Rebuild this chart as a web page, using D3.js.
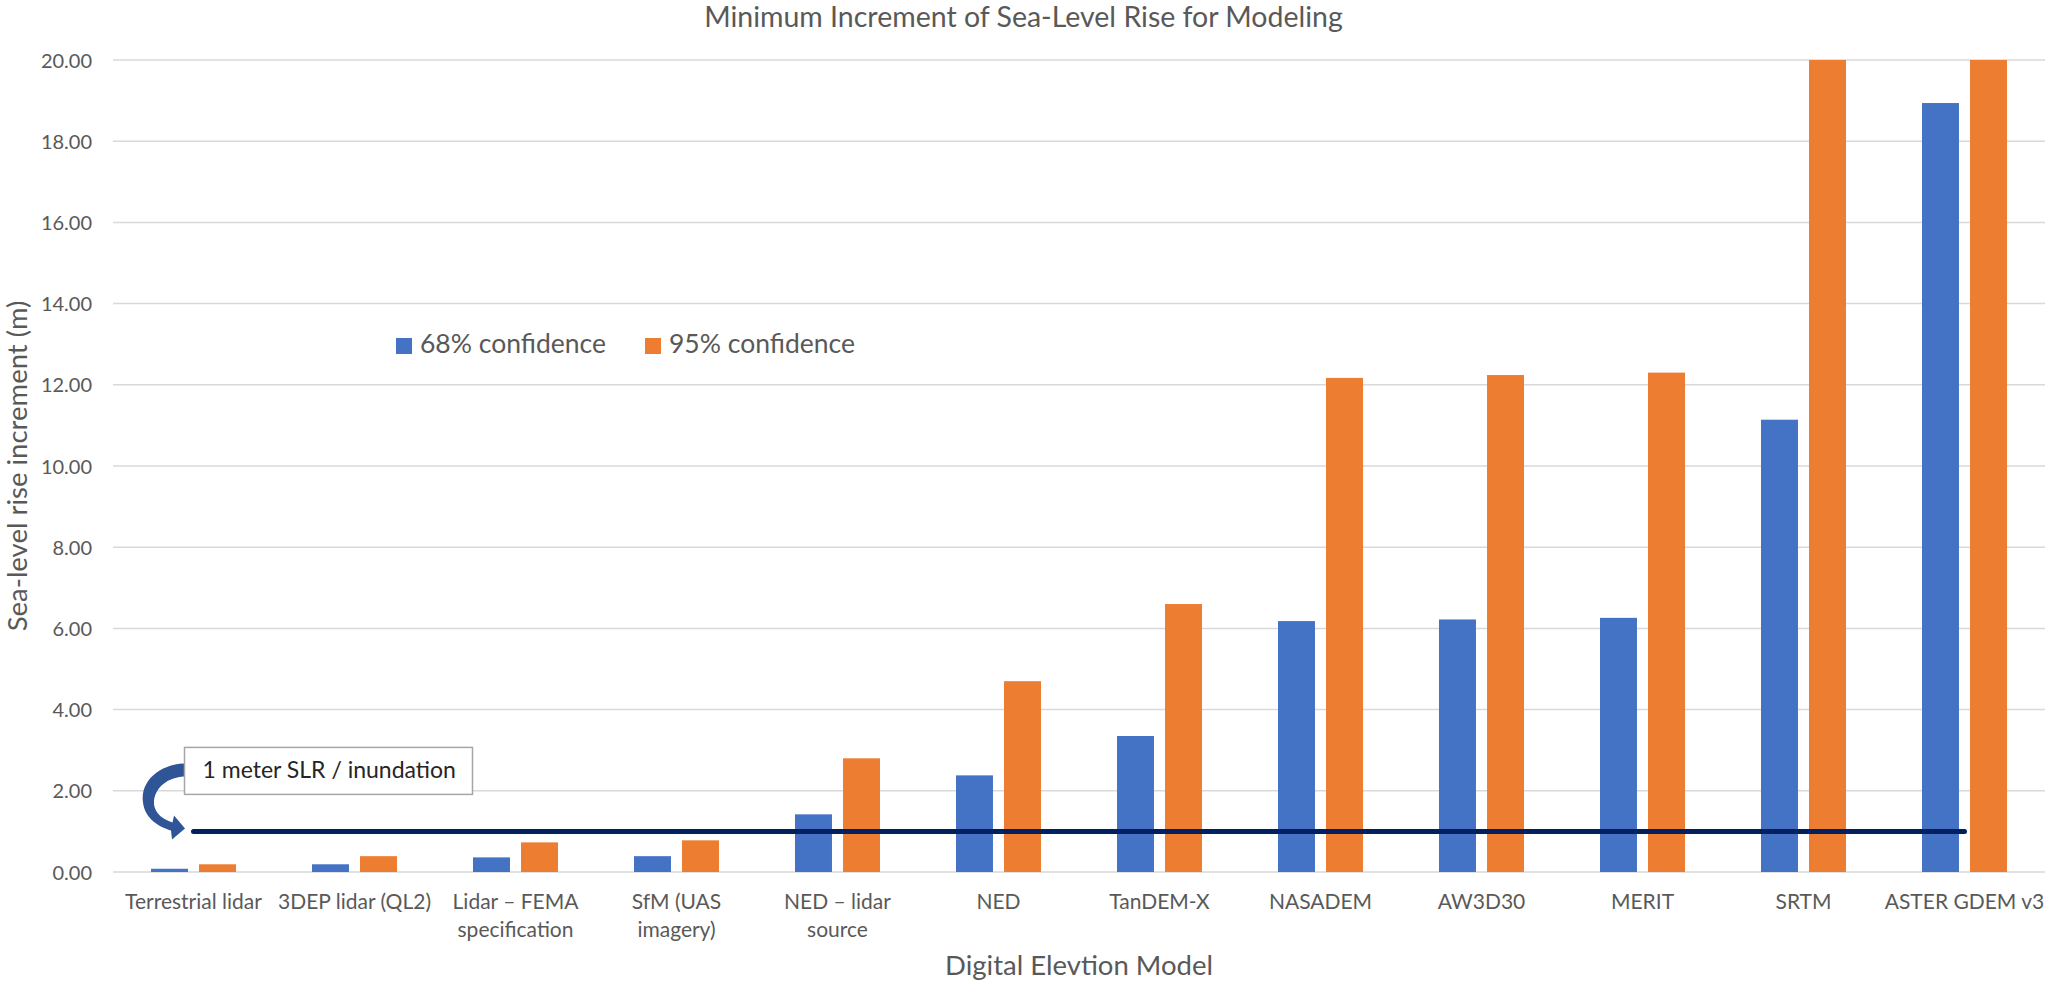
<!DOCTYPE html>
<html>
<head>
<meta charset="utf-8">
<script src="https://cdn.jsdelivr.net/npm/d3@7"></script>
<style>
  body { margin: 0; background: #fff; }
  text { font-family: Lato, "Open Sans", sans-serif; fill: #595959; }
</style>
</head>
<body>
<svg id="chart"></svg>
<script>
// data
const categories = ["Terrestrial lidar", "3DEP lidar (QL2)", "Lidar \u2013 FEMA specification",
  "SfM (UAS imagery)", "NED \u2013 lidar source", "NED", "TanDEM-X", "NASADEM",
  "AW3D30", "MERIT", "SRTM", "ASTER GDEM v3"];
const conf68 = [0.08, 0.19, 0.36, 0.39, 1.42, 2.38, 3.35, 6.18, 6.22, 6.26, 11.14, 18.94];
const conf95 = [0.19, 0.39, 0.73, 0.78, 2.80, 4.70, 6.60, 12.17, 12.24, 12.30, 21.84, 37.12];
const seriesNames = ["68% confidence", "95% confidence"];
const inundation = 1; // 1 meter SLR reference line
const yTicks = [0, 2, 4, 6, 8, 10, 12, 14, 16, 18, 20];

const width = 2047, height = 984;
const margin = { top: 60, right: 2, bottom: 112, left: 113 };
const colors = ["#4472C4", "#ED7D31"];

const svg = d3.select("#chart")
  .attr("width", width)
  .attr("height", height);

const x0 = d3.scaleBand()
  .domain(categories)
  .range([margin.left, width - margin.right]);

const band = x0.bandwidth();
const x1 = d3.scaleBand()
  .domain(seriesNames)
  .range([band * 0.236, band * 0.764])
  .paddingInner(0.23);

const y = d3.scaleLinear()
  .domain([0, 20])
  .range([height - margin.bottom, margin.top])
  .clamp(true);

// gridlines
svg.append("g")
  .selectAll("line")
  .data(yTicks)
  .join("line")
  .attr("x1", margin.left)
  .attr("x2", width - margin.right)
  .attr("y1", d => y(d))
  .attr("y2", d => y(d))
  .attr("stroke", "#D9D9D9")
  .attr("stroke-width", 1.5);

// y axis labels
const yAxis = svg.append("g")
  .attr("transform", `translate(${margin.left - 21},0)`)
  .call(d3.axisLeft(y).tickValues(yTicks).tickFormat(d3.format(".2f")).tickSize(0).tickPadding(0));
yAxis.select(".domain").remove();
yAxis.selectAll("text")
  .attr("font-size", 20)
  .attr("dy", "0.35em")
  .style("font-family", "Lato, sans-serif")
  .attr("fill", "#595959");

// bars
const rows = categories.map((c, i) => ({ key: c, values: [conf68[i], conf95[i]] }));

svg.append("g")
  .selectAll("g")
  .data(rows)
  .join("g")
  .attr("transform", d => `translate(${x0(d.key)},0)`)
  .selectAll("rect")
  .data(d => d.values.map((v, j) => ({ name: seriesNames[j], value: v, j: j })))
  .join("rect")
  .attr("x", d => x1(d.name))
  .attr("width", x1.bandwidth())
  .attr("y", d => y(d.value))
  .attr("height", d => y(0) - y(d.value))
  .attr("fill", d => colors[d.j]);

// x axis labels
const xAxis = svg.append("g")
  .attr("transform", `translate(0,${y(0)})`)
  .call(d3.axisBottom(x0).tickSize(0).tickPadding(37));
xAxis.select(".domain").remove();
xAxis.selectAll("text")
  .attr("font-size", 21)
  .attr("dy", 0)
  .attr("fill", "#595959")
  .call(wrap, band + 2);

function wrap(sel, w) {
  sel.each(function () {
    const text = d3.select(this);
    const words = text.text().split(/\s+/);
    const yy = text.attr("y");
    let line = [];
    let lineNo = 0;
    let tspan = text.text(null).append("tspan").attr("x", 0).attr("y", yy).attr("dy", 0);
    words.forEach(word => {
      line.push(word);
      tspan.text(line.join(" "));
      if (tspan.node().getComputedTextLength() > w && line.length > 1) {
        line.pop();
        tspan.text(line.join(" "));
        line = [word];
        lineNo++;
        tspan = text.append("tspan").attr("x", 0).attr("y", yy)
          .attr("dy", lineNo * 28).text(word);
      }
    });
  });
}

// 1 m inundation line, from first to last category centre
const lineX1 = x0(categories[0]) + band / 2;
const lineX2 = x0(categories[categories.length - 1]) + band / 2;
svg.append("line")
  .attr("x1", lineX1)
  .attr("x2", lineX2)
  .attr("y1", y(inundation))
  .attr("y2", y(inundation))
  .attr("stroke", "#002060")
  .attr("stroke-width", 5)
  .attr("stroke-linecap", "round");

// annotation box + curved arrow pointing at the line start
const ax = lineX1, ay = y(inundation);
const p = (dx, dy) => `${ax + dx},${ay + dy}`;
svg.append("path")
  .attr("d", `M${p(-9.5, -68)} C${p(-33.5, -67)} ${p(-53.5, -51)} ${p(-50.5, -29)}`
    + ` C${p(-48.5, -13)} ${p(-35.5, -5)} ${p(-22.5, -1)}`
    + ` L${p(-21.5, 8)} L${p(-8.5, -3)} L${p(-19.5, -16)} L${p(-21, -9)}`
    + ` C${p(-33.5, -13)} ${p(-40.5, -21)} ${p(-39.5, -31)}`
    + ` C${p(-37.5, -45)} ${p(-25.5, -54)} ${p(-9.5, -55)} Z`)
  .attr("fill", "#2F5597");

svg.append("rect")
  .attr("x", ax - 9)
  .attr("y", ay - 84)
  .attr("width", 288)
  .attr("height", 47)
  .attr("fill", "#fff")
  .attr("stroke", "#A6A6A6")
  .attr("stroke-width", 1.5);
svg.append("text")
  .attr("x", ax + 9)
  .attr("y", ay - 53)
  .attr("font-size", 23)
  .style("fill", "#262626")
  .text("1 meter SLR / inundation");

// legend
const legend = svg.append("g")
  .selectAll("g")
  .data(seriesNames)
  .join("g")
  .attr("transform", (d, i) => `translate(${396 + i * 249},338)`);
legend.append("rect")
  .attr("width", 16)
  .attr("height", 16)
  .attr("fill", (d, i) => colors[i]);
legend.append("text")
  .attr("x", 24)
  .attr("y", 15)
  .attr("font-size", 26.5)
  .text(d => d);

// titles
svg.append("text")
  .attr("x", width / 2)
  .attr("y", 27)
  .attr("text-anchor", "middle")
  .attr("font-size", 28.5)
  .text("Minimum Increment of Sea-Level Rise for Modeling");

svg.append("text")
  .attr("x", (margin.left + width - margin.right) / 2)
  .attr("y", 975)
  .attr("text-anchor", "middle")
  .attr("font-size", 27.5)
  .text("Digital Elevtion Model");

svg.append("text")
  .attr("transform", `translate(27,${(y(0) + y(20)) / 2}) rotate(-90)`)
  .attr("text-anchor", "middle")
  .attr("font-size", 27.5)
  .text("Sea-level rise increment (m)");
</script>
</body>
</html>
